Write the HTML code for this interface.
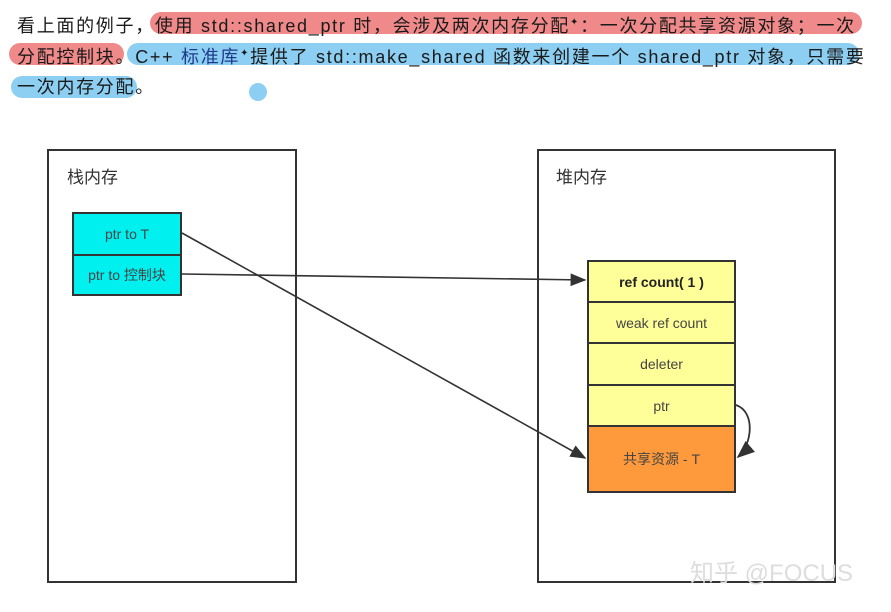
<!DOCTYPE html>
<html><head><meta charset="utf-8"><style>
body{margin:0;width:891px;height:612px;background:#fff;position:relative;overflow:hidden;font-family:"Liberation Sans","Noto Sans CJK SC",sans-serif;}
.t{position:absolute;left:17px;font-size:18px;color:#1a1a1a;white-space:nowrap;line-height:24px;letter-spacing:1.7px;}
.hl{position:absolute;border-radius:12px;}
.box{position:absolute;border:2px solid #333;box-sizing:border-box;}
.cell{position:absolute;box-sizing:border-box;border:2px solid #333;display:flex;align-items:center;justify-content:center;font-size:14px;color:#444;}
.lbl{position:absolute;font-size:17px;color:#333;}
</style></head><body>
<div class="hl" style="left:150px;top:12px;width:712px;height:22px;background:#f08a8a;"></div>
<div class="hl" style="left:9px;top:43px;width:115px;height:22px;background:#f08a8a;"></div>
<div class="hl" style="left:127px;top:43px;width:732px;height:22px;background:#8dcff2;"></div>
<div class="hl" style="left:11px;top:76px;width:126px;height:22px;background:#8dcff2;"></div>
<div style="position:absolute;left:249px;top:83px;width:18px;height:18px;border-radius:50%;background:#8dcff2;"></div>
<div class="t" style="top:11px;">看上面的例子，使用 std::shared_ptr 时，会涉及两次内存分配<sup style="font-size:10px">✦</sup>：一次分配共享资源对象；一次</div>
<div class="t" style="top:42px;">分配控制块。C++ <span style="color:#1e3a8a">标准库</span><sup style="font-size:10px">✦</sup>提供了 std::make_shared 函数来创建一个 shared_ptr 对象，只需要</div>
<div class="t" style="top:75px;">一次内存分配。</div>

<div class="box" style="left:47px;top:149px;width:250px;height:434px;"></div>
<div class="lbl" style="left:67px;top:163px;">栈内存</div>
<div class="box" style="left:537px;top:149px;width:299px;height:434px;"></div>
<div class="lbl" style="left:556px;top:163px;">堆内存</div>

<div class="cell" style="left:72px;top:212px;width:110px;height:44px;background:#00f0f0;">ptr to T</div>
<div class="cell" style="left:72px;top:254px;width:110px;height:42px;background:#00f0f0;">ptr to 控制块</div>

<div class="cell" style="left:587px;top:260px;width:149px;height:43px;background:#ffff99;font-weight:bold;color:#222;">ref count( 1 )</div>
<div class="cell" style="left:587px;top:301px;width:149px;height:43px;background:#ffff99;">weak ref count</div>
<div class="cell" style="left:587px;top:342px;width:149px;height:44px;background:#ffff99;">deleter</div>
<div class="cell" style="left:587px;top:384px;width:149px;height:43px;background:#ffff99;">ptr</div>
<div class="cell" style="left:587px;top:425px;width:149px;height:68px;background:#ff9a3c;">共享资源 - T</div>

<svg style="position:absolute;left:0;top:0" width="891" height="612">
<defs><marker id="a" markerWidth="10" markerHeight="8" refX="9" refY="4" orient="auto"><path d="M0,0L10,4L0,8z" fill="#333"/></marker></defs>
<line x1="182" y1="274" x2="585" y2="280" stroke="#333" stroke-width="1.6" marker-end="url(#a)"/>
<line x1="182" y1="233" x2="585" y2="458" stroke="#333" stroke-width="1.6" marker-end="url(#a)"/>
<path d="M736,405 C756,412 752,445 738,457" fill="none" stroke="#333" stroke-width="1.8" marker-end="url(#a)"/>
</svg>
<div style="position:absolute;left:690px;top:553px;font-size:24px;color:#ddd;">知乎 @FOCUS</div>
</body></html>
